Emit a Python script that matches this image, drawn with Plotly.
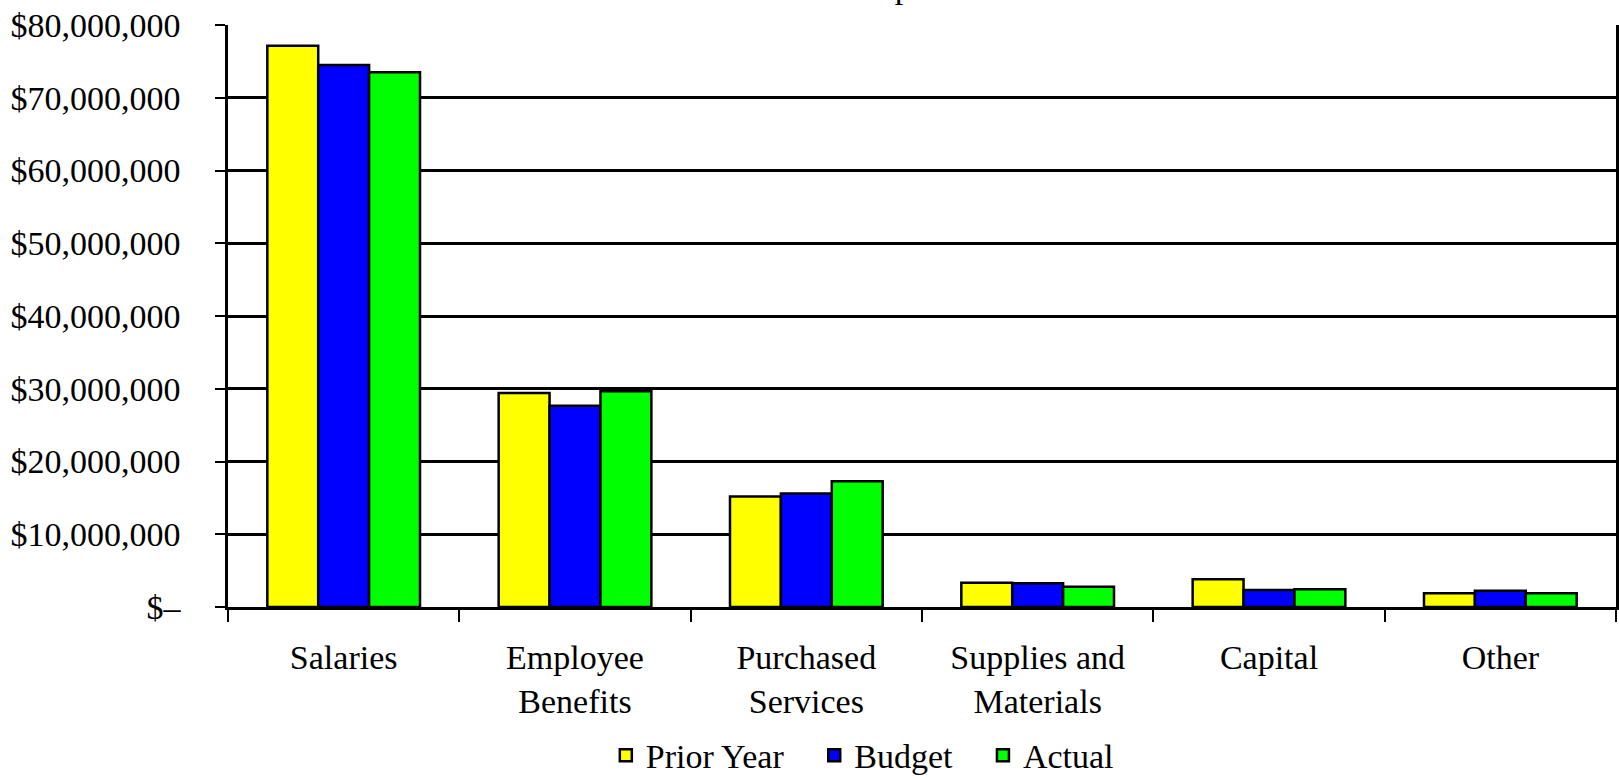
import plotly.graph_objects as go

# Expenditure categories and amounts (dollars)
categories = ["Salaries", "Employee<br>Benefits", "Purchased<br>Services",
              "Supplies and<br>Materials", "Capital", "Other"]
prior_year = [77_150_000, 29_400_000, 15_200_000, 3_350_000, 3_800_000, 1_900_000]
budget = [74_500_000, 27_650_000, 15_600_000, 3_250_000, 2_350_000, 2_250_000]
actual = [73_500_000, 29_650_000, 17_300_000, 2_800_000, 2_430_000, 1_900_000]

tick_vals = [0, 10e6, 20e6, 30e6, 40e6, 50e6, 60e6, 70e6, 80e6]
tick_text = ["$\u2013", "$10,000,000", "$20,000,000", "$30,000,000", "$40,000,000",
             "$50,000,000", "$60,000,000", "$70,000,000", "$80,000,000"]

FONT = "Liberation Serif, Times New Roman, serif"
line = dict(color="black", width=2.5)
PAD = "\u00a0\u00a0\u00a0"  # extra spacing between legend entries

fig = go.Figure()
fig.add_trace(go.Bar(name="Prior Year" + PAD, x=categories, y=prior_year,
                     marker=dict(color="#FFFF00", line=line)))
fig.add_trace(go.Bar(name="Budget" + PAD, x=categories, y=budget,
                     marker=dict(color="#0000FF", line=line)))
fig.add_trace(go.Bar(name="Actual", x=categories, y=actual,
                     marker=dict(color="#00FF00", line=line)))

fig.update_layout(
    width=1619, height=779,
    margin=dict(l=228, r=3, t=25, b=172, autoexpand=False),
    paper_bgcolor="white", plot_bgcolor="white",
    font=dict(family=FONT, size=34, color="black"),
    barmode="group", bargap=0.34, bargroupgap=0,
    showlegend=True,
    legend=dict(orientation="h", x=0.457, xanchor="center",
                yref="container", y=0.03, yanchor="middle",
                font=dict(size=34), itemclick=False, tracegroupgap=0),
    xaxis=dict(showline=True, linecolor="black", linewidth=2.5,
               ticks="outside", tickson="boundaries", ticklen=12, tickwidth=2,
               tickcolor="black", showgrid=False, ticklabelstandoff=18),
    yaxis=dict(range=[0, 80e6], tickvals=tick_vals, ticktext=tick_text,
               showline=True, linecolor="black", linewidth=2.5, mirror=True,
               showgrid=True, gridcolor="black", gridwidth=2.5,
               ticks="outside", ticklen=10, tickwidth=2, tickcolor="black",
               ticklabelstandoff=28, zeroline=False),
)

fig.add_annotation(text="Expenditures", xref="paper", yref="paper", x=0.518, y=1,
                   yanchor="middle", yshift=39, showarrow=False,
                   font=dict(family=FONT, size=34))

fig.write_html("out.html")
